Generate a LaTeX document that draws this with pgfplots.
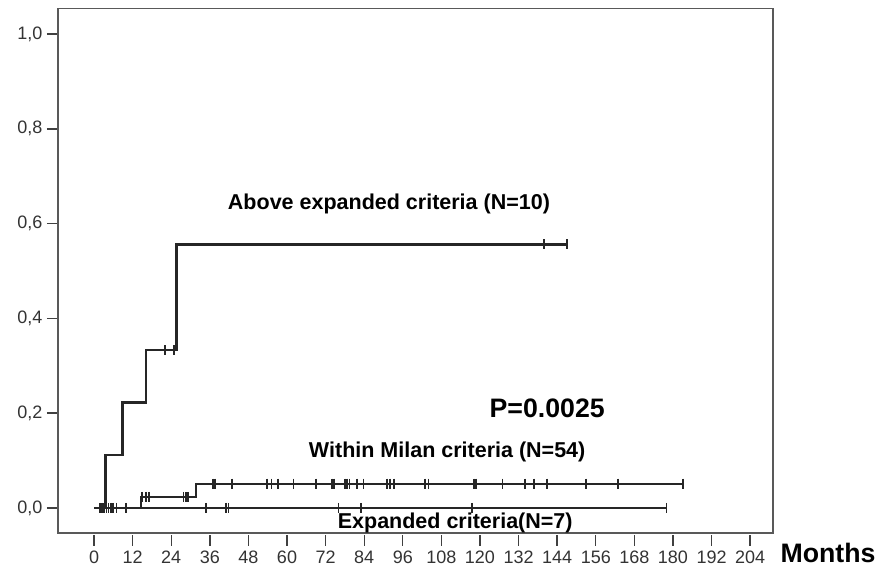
\documentclass[border=0pt]{standalone}
\usepackage{fontspec}
\setmainfont{Liberation Sans}
\usepackage{pgfplots}
\pgfplotsset{compat=1.18}
\begin{document}
\begin{tikzpicture}[x=1pt,y=1pt]
\path[use as bounding box] (0,0) rectangle (889,567);
\begin{axis}[
 at={(58pt,34pt)}, anchor=south west, scale only axis,
 width=715pt, height=524.5pt,
 xmin=-11.2, xmax=211.1, ymin=-0.053, ymax=1.054,
 axis line style={black!65, line width=1.3pt},
 xtick={0,12,...,204}, ytick={0,0.2,0.4,0.6,0.8,1.0},
 xtick pos=bottom, ytick pos=left,
 tick align=outside, major tick length=11pt,
 tick style={black!75, line width=1.4pt},
 xtick style={yshift=-2pt},
 xticklabel style={yshift=-3pt, text height=13pt, text depth=0pt},
 yticklabel style={xshift=-1pt, /pgf/number format/.cd, use comma, fixed, fixed zerofill, precision=1},
 /pgf/number format/assume math mode=true,
 ticklabel style={font=\fontsize{18}{20}\selectfont, text=black!80},
 clip=false,
]
% Above expanded criteria (N=10)
\addplot[const plot, line width=2.4pt, black!85] coordinates {
 (0,0) (3.6,0.111) (8.8,0.222) (16.1,0.333) (25.7,0.556) (147,0.556)};
\addplot[only marks, mark=|, mark size=5pt, mark options={line width=1.8pt, black!85}] coordinates {
 (2.4,0) (22.1,0.333) (24.9,0.333) (139.9,0.556) (147,0.556)};
% Within Milan criteria (N=54)
\addplot[const plot, line width=2.4pt, black!85] coordinates {
 (0.3,0) (14.6,0.023) (31.7,0.051) (183.5,0.051)};
\addplot[only marks, mark=|, mark size=5pt, mark options={line width=1.8pt, black!85}] coordinates {
 (1.9,0) (3.0,0) (3.9,0) (4.5,0) (5.2,0) (6.0,0) (7.0,0) (9.9,0)
 (15.0,0.023) (16.2,0.023) (17.2,0.023) (27.8,0.023) (28.6,0.023) (29.3,0.023)
 (37.1,0.051) (37.7,0.051) (42.8,0.051) (53.9,0.051) (55.2,0.051) (57.1,0.051)
 (62.0,0.051) (69.0,0.051) (73.9,0.051) (74.7,0.051) (78.0,0.051) (78.6,0.051)
 (79.4,0.051) (81.7,0.051) (83.8,0.051) (91.0,0.051) (92.0,0.051) (93.3,0.051)
 (102.9,0.051) (104.0,0.051) (118.2,0.051) (118.7,0.051) (127.0,0.051) (134.0,0.051)
 (136.9,0.051) (140.8,0.051) (152.9,0.051) (163.0,0.051) (183.2,0.051)};
% Expanded criteria (N=7)
\addplot[const plot, line width=2.4pt, black!85] coordinates {
 (0.3,0) (178,0)};
\addplot[only marks, mark=|, mark size=5pt, mark options={line width=1.8pt, black!85}] coordinates {
 (34.8,0) (41.0,0) (41.8,0) (76.0,0) (82.9,0) (117.5,0) (178,0)};
% labels
\node[font=\bfseries\fontsize{21.5}{24}\selectfont] at (axis cs:91.7,0.641) {Above expanded criteria (N=10)};
\node[font=\bfseries\fontsize{26.7}{30}\selectfont] at (axis cs:140.9,0.211) {P=0.0025};
\node[font=\bfseries\fontsize{21.5}{24}\selectfont] at (axis cs:109.8,0.118) {Within Milan criteria (N=54)};
\node[font=\bfseries\fontsize{21.5}{24}\selectfont] at (axis cs:112.3,-0.032) {Expanded criteria(N=7)};
\node[font=\bfseries\fontsize{26.7}{30}\selectfont] at (axis cs:228.2,-0.095) {Months};
\end{axis}
\end{tikzpicture}
\end{document}
